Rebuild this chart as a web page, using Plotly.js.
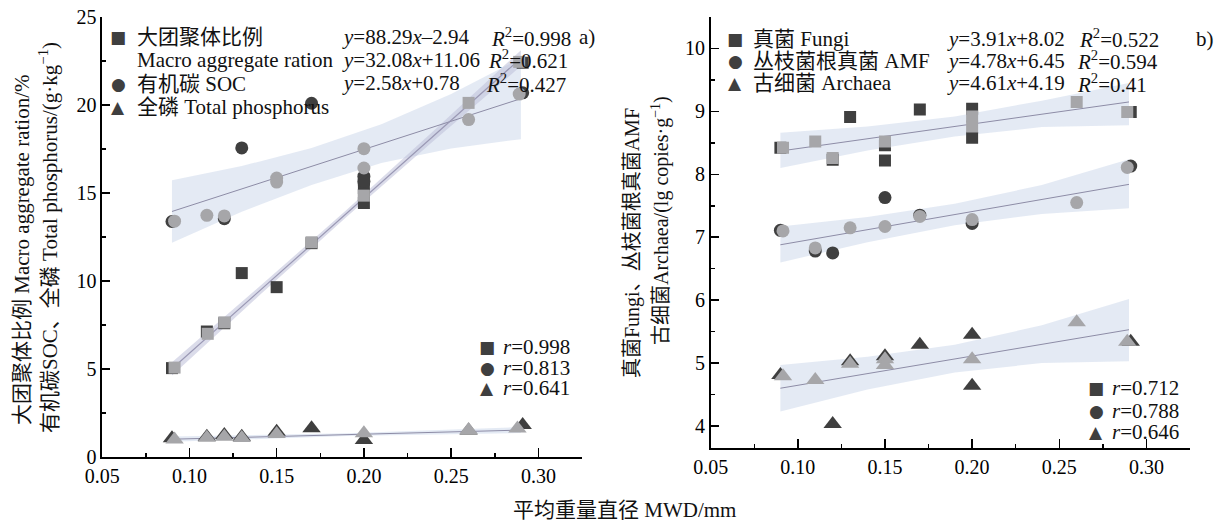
<!DOCTYPE html>
<html>
<head>
<meta charset="utf-8">
<script src="https://cdn.plot.ly/plotly-3.0.1.min.js"></script>
<style>html,body{margin:0;padding:0;background:#fff;}#chart{width:1221px;height:522px;}</style>
</head>
<body>
<div id="chart"></div>
<script>
// ---------------- DATA ----------------
// Panel a) — x: MWD (mm)
const macroDarkX = [0.09, 0.11, 0.12, 0.13, 0.15, 0.17, 0.20, 0.20, 0.20, 0.20, 0.291];
const macroDarkY = [5.05, 7.13, 7.60, 10.45, 9.65, 12.15, 15.76, 15.28, 14.90, 14.43, 22.40];
const macroLightX = [0.0915, 0.1105, 0.12, 0.17, 0.20, 0.26, 0.289];
const macroLightY = [5.08, 7.00, 7.65, 12.20, 14.85, 20.12, 22.45];

const socDarkX = [0.09, 0.12, 0.13, 0.17, 0.20, 0.20, 0.291];
const socDarkY = [13.38, 13.54, 17.56, 20.10, 15.94, 15.66, 20.69];
const socLightX = [0.0915, 0.11, 0.12, 0.15, 0.15, 0.20, 0.20, 0.26, 0.289];
const socLightY = [13.40, 13.73, 13.70, 15.85, 15.62, 17.52, 16.42, 19.17, 20.62];

const tpDarkX = [0.09, 0.11, 0.12, 0.13, 0.15, 0.17, 0.20, 0.26, 0.291];
const tpDarkY = [1.06, 1.15, 1.25, 1.15, 1.44, 1.63, 0.97, 1.50, 1.82];
const tpLightX = [0.0915, 0.11, 0.12, 0.13, 0.15, 0.20, 0.26, 0.288];
const tpLightY = [1.00, 1.10, 1.15, 1.08, 1.30, 1.35, 1.54, 1.62];

// fitted lines and confidence bands (panel a)
const fitX = [0.09, 0.29];
const macroFit = [5.01, 22.66];
const socFit = [13.95, 20.36];
const tpFit = [1.01, 1.53];
const macroBandX = [0.09, 0.14, 0.19, 0.24, 0.29];
const macroLow = [4.63, 9.17, 13.63, 17.97, 22.21];
const macroUp = [5.39, 9.67, 14.03, 18.53, 23.11];
const socBandX = [0.09, 0.13, 0.17, 0.21, 0.25, 0.29];
const socLow = [12.17, 13.93, 15.46, 16.70, 17.53, 18.06];
const socUp = [15.73, 16.53, 17.56, 18.90, 20.63, 22.66];
const tpBandX = [0.09, 0.19, 0.29];
const tpLow = [0.86, 1.19, 1.36];
const tpUp = [1.16, 1.35, 1.70];

// Panel b)
const fungiDarkX = [0.09, 0.12, 0.13, 0.15, 0.15, 0.17, 0.20, 0.20, 0.291];
const fungiDarkY = [8.42, 8.23, 8.91, 8.46, 8.22, 9.03, 9.04, 8.58, 8.99];
const fungiLightX = [0.0915, 0.11, 0.12, 0.15, 0.20, 0.20, 0.26, 0.289];
const fungiLightY = [8.42, 8.52, 8.26, 8.52, 8.92, 8.76, 9.15, 8.99];

const amfDarkX = [0.09, 0.11, 0.12, 0.15, 0.17, 0.20, 0.291];
const amfDarkY = [7.11, 6.78, 6.75, 7.63, 7.35, 7.22, 8.13];
const amfLightX = [0.0915, 0.11, 0.13, 0.15, 0.17, 0.20, 0.26, 0.289];
const amfLightY = [7.10, 6.83, 7.15, 7.17, 7.33, 7.28, 7.55, 8.11];

const archDarkX = [0.09, 0.12, 0.13, 0.15, 0.17, 0.20, 0.20, 0.291];
const archDarkY = [4.81, 4.03, 5.03, 5.11, 5.29, 5.45, 4.64, 5.34];
const archLightX = [0.0915, 0.11, 0.13, 0.15, 0.15, 0.20, 0.26, 0.289];
const archLightY = [4.79, 4.73, 4.99, 5.06, 4.97, 5.06, 5.65, 5.34];

const fungiFit = [8.37, 9.15];
const amfFit = [6.88, 7.84];
const archFit = [4.60, 5.53];
const bBandX = [0.09, 0.14, 0.19, 0.24, 0.29];
const fungiLow = [8.10, 8.38, 8.60, 8.75, 8.78];
const fungiUp = [8.66, 8.76, 8.92, 9.17, 9.45];
const amfLow = [6.60, 6.92, 7.19, 7.37, 7.46];
const amfUp = [7.17, 7.32, 7.53, 7.83, 8.24];
const archLow = [4.23, 4.58, 4.85, 5.00, 5.03];
const archUp = [4.97, 5.10, 5.29, 5.60, 6.02];

// text content
const xTicksFmt = '.2f';
const legendA = ['大团聚体比例', 'Macro aggregate ration', '有机碳 SOC', '全磷 Total phosphorus'];
const eqA = ['<i>y</i>=88.29<i>x</i>–2.94', '<i>y</i>=32.08<i>x</i>+11.06', '<i>y</i>=2.58<i>x</i>+0.78'];
const r2A = ['<i>R</i><sup>2</sup>=0.998', '<i>R</i><sup>2</sup>=0.621', '<i>R</i><sup>2</sup>=0.427'];
const rA = ['<i>r</i>=0.998', '<i>r</i>=0.813', '<i>r</i>=0.641'];
const legendB = ['真菌 Fungi', '丛枝菌根真菌 AMF', '古细菌 Archaea'];
const eqB = ['<i>y</i>=3.91<i>x</i>+8.02', '<i>y</i>=4.78<i>x</i>+6.45', '<i>y</i>=4.61<i>x</i>+4.19'];
const r2B = ['<i>R</i><sup>2</sup>=0.522', '<i>R</i><sup>2</sup>=0.594', '<i>R</i><sup>2</sup>=0.41'];
const rB = ['<i>r</i>=0.712', '<i>r</i>=0.788', '<i>r</i>=0.646'];

// ---------------- STYLE ----------------
const W = 1221, H = 522;
const DARK = '#3f3f3f', LIGHT = '#a6a6a9';
const BAND = 'rgba(198,212,232,0.48)';
const FITC = '#8d8ca6';
const SERIF = '"Liberation Serif","Noto Sans CJK SC",serif';
const GLYPH = '"DejaVu Sans",sans-serif';

const traces = [];
function band(xa, xs, lo, up, color) {
  traces.push({x: xs, y: lo, xaxis: xa, yaxis: xa.replace('x','y'), mode: 'lines', line: {width: 0, color: 'rgba(0,0,0,0)'}, hoverinfo: 'skip', showlegend: false});
  traces.push({x: xs, y: up, xaxis: xa, yaxis: xa.replace('x','y'), mode: 'lines', fill: 'tonexty', fillcolor: color || BAND, line: {width: 0, color: 'rgba(0,0,0,0)'}, hoverinfo: 'skip', showlegend: false});
}
function fit(xa, ys, w, c) {
  traces.push({x: fitX, y: ys, xaxis: xa, yaxis: xa.replace('x','y'), mode: 'lines', line: {width: w || 1, color: c || FITC}, showlegend: false});
}
function pts(xa, xs, ys, sym, color, size) {
  traces.push({x: xs, y: ys, xaxis: xa, yaxis: xa.replace('x','y'), mode: 'markers', marker: {symbol: sym, size: size, color: color, line: {width: 0}}, showlegend: false});
}

// panel a
band('x', socBandX, socLow, socUp);
band('x', macroBandX, macroLow, macroUp, 'rgba(190,192,216,0.55)');
band('x', tpBandX, tpLow, tpUp);
fit('x', socFit);
fit('x', macroFit, 1.2, '#9a98b4');
fit('x', tpFit);
pts('x', macroDarkX, macroDarkY, 'square', DARK, 12);
pts('x', socDarkX, socDarkY, 'circle', DARK, 13);
pts('x', tpDarkX, tpDarkY, 'triangle-up', DARK, 16);
pts('x', macroLightX, macroLightY, 'square', LIGHT, 12);
pts('x', socLightX, socLightY, 'circle', LIGHT, 13);
pts('x', tpLightX, tpLightY, 'triangle-up', LIGHT, 16);

// panel b
band('x2', bBandX, fungiLow, fungiUp);
band('x2', bBandX, amfLow, amfUp);
band('x2', bBandX, archLow, archUp);
fit('x2', fungiFit);
fit('x2', amfFit);
fit('x2', archFit);
pts('x2', fungiDarkX, fungiDarkY, 'square', DARK, 12);
pts('x2', amfDarkX, amfDarkY, 'circle', DARK, 13);
pts('x2', archDarkX, archDarkY, 'triangle-up', DARK, 16);
pts('x2', fungiLightX, fungiLightY, 'square', LIGHT, 12);
pts('x2', amfLightX, amfLightY, 'circle', LIGHT, 13);
pts('x2', archLightX, archLightY, 'triangle-up', LIGHT, 16);

// ---------------- LAYOUT ----------------
const tickFont = {family: SERIF, size: 20, color: '#000'};
function xAx(domain, anchor) {
  return {domain: domain, anchor: anchor, range: [0.0499, 0.325], tick0: 0.05, dtick: 0.05, tickformat: xTicksFmt,
    showline: true, linecolor: '#000', linewidth: 1.6, ticks: 'inside', ticklen: 9, tickwidth: 1.5, tickcolor: '#000',
    minor: {ticks: 'inside', ticklen: 4, tickwidth: 1.5, tickcolor: '#000', dtick: 0.025, tick0: 0.05},
    showgrid: false, zeroline: false, tickfont: tickFont, fixedrange: true};
}
function yAx(domain, anchor, range, dt) {
  return {domain: domain, anchor: anchor, range: range, tick0: 0, dtick: dt,
    showline: true, linecolor: '#000', linewidth: 1.6, ticks: 'inside', ticklen: 8, tickwidth: 1.5, tickcolor: '#000',
    minor: {ticks: 'inside', ticklen: 4, tickwidth: 1.5, tickcolor: '#000', dtick: dt / 2},
    showgrid: false, zeroline: false, tickfont: tickFont, fixedrange: true};
}

const anns = [];
function A(x, y, text, o) {
  o = o || {};
  anns.push(Object.assign({xref: 'paper', yref: 'paper', x: x / W, y: 1 - y / H, text: text, showarrow: false,
    xanchor: 'left', yanchor: 'middle', borderpad: 0,
    font: {family: SERIF, size: 21, color: '#111'}}, o));
}
function G(x, y, ch, size) {
  A(x, y, ch, {xanchor: 'center', font: {family: GLYPH, size: size, color: DARK}});
}

// panel a legend
const rowsA = [37, 60, 84, 107];
G(118, rowsA[0], '■', 17); G(118, rowsA[2], '●', 17); G(118, rowsA[3], '▲', 17);
legendA.forEach((t, i) => A(136, rowsA[i], t));
const eqRowsA = [37, 60, 83];
eqA.forEach((t, i) => A(341, eqRowsA[i], t));
const r2xA = [490, 487, 485];
r2A.forEach((t, i) => A(r2xA[i], eqRowsA[i], t));
A(578, 37, 'a)');
const rRowsA = [347, 368, 388];
G(487, rRowsA[0], '■', 17); G(487, rRowsA[1], '●', 17); G(487, rRowsA[2], '▲', 17);
rA.forEach((t, i) => A(502, rRowsA[i], t));

// panel b legend
const rowsB = [39, 61, 83];
G(735, rowsB[0], '■', 17); G(735, rowsB[1], '●', 17); G(735, rowsB[2], '▲', 17);
legendB.forEach((t, i) => A(752, rowsB[i], t));
eqB.forEach((t, i) => A(946, rowsB[i], t));
const r2xB = [1078, 1076, 1076];
r2B.forEach((t, i) => A(r2xB[i], rowsB[i], t));
A(1195, 39, 'b)');
const rRowsB = [388, 411, 432];
G(1096, rRowsB[0], '■', 17); G(1096, rRowsB[1], '●', 17); G(1096, rRowsB[2], '▲', 17);
rB.forEach((t, i) => A(1111, rRowsB[i], t));

// axis titles
const tf = {family: SERIF, size: 21, color: '#111'};
A(22, 250, '大团聚体比例 Macro aggregate ration/%', {xanchor: 'center', textangle: -90, font: tf});
A(48, 238, '有机碳SOC、全磷 Total phosphorus/(g·kg<sup>−1</sup>)', {xanchor: 'center', textangle: -90, font: tf});
A(633, 243, '真菌Fungi、丛枝菌根真菌AMF', {xanchor: 'center', textangle: -90, font: {family: SERIF, size: 20, color: '#111'}});
A(660, 221, '古细菌Archaea/(lg copies·g<sup>−1</sup>)', {xanchor: 'center', textangle: -90, font: {family: SERIF, size: 20, color: '#111'}});
A(624, 510, '平均重量直径 MWD/mm', {xanchor: 'center', font: {family: SERIF, size: 21, color: '#111'}});

const layout = {
  width: W, height: H,
  margin: {l: 0, r: 0, t: 0, b: 0},
  paper_bgcolor: '#fff', plot_bgcolor: 'rgba(0,0,0,0)',
  showlegend: false, hovermode: false,
  xaxis: xAx([102 / W, 582 / W], 'y'),
  yaxis: yAx([1 - 457 / H, 1 - 17 / H], 'x', [0, 25], 5),
  xaxis2: xAx([710.5 / W, 1190 / W], 'y2'),
  yaxis2: yAx([1 - 448 / H, 1 - 17 / H], 'x2', [3.65, 10.5], 1),
  annotations: anns
};
layout.yaxis2.tick0 = 4;

Plotly.newPlot('chart', traces, layout, {staticPlot: true, displayModeBar: false});
</script>
</body>
</html>
